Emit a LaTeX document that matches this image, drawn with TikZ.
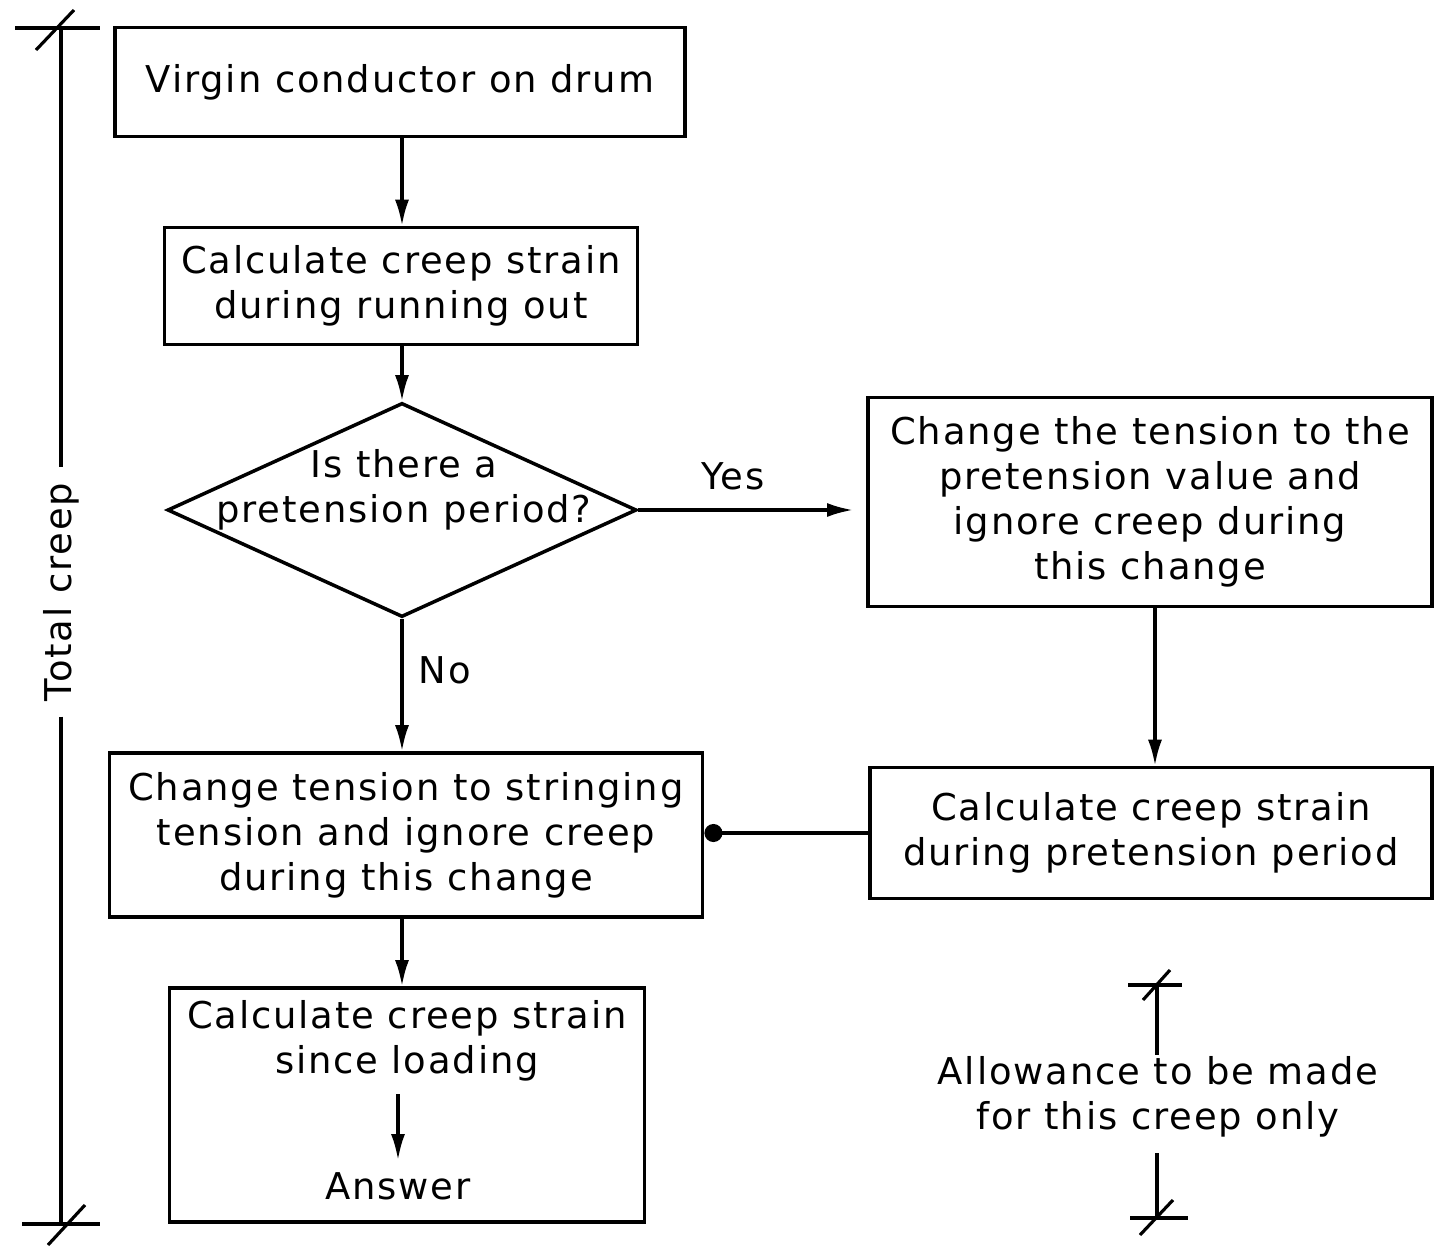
\documentclass[tikz,border=0pt]{standalone}
\usepackage{fontspec}
\setmainfont[LetterSpace=5]{DejaVu Sans}
\usetikzlibrary{shapes.geometric,arrows.meta,positioning}

\begin{document}
\begin{tikzpicture}
  [x=0.01cm,y=-0.01cm,line width=0.9pt,>={Latex[length=2.6mm,width=1.4mm]},
   every node/.style={font=\fontsize{10.5}{12.8}\selectfont,align=center,inner sep=1pt},
   box/.style={rectangle,draw=black,line width=1pt,inner sep=0pt},
   decide/.style={diamond,draw=black,line width=1pt,inner sep=0pt,minimum width=4.69cm,minimum height=2.14cm}]

  \useasboundingbox (0,0) rectangle (1435,1248);

  %%%%%%%%%%%%%%%%%%%%%% LEFT COLUMN %%%%%%%%%%%%%%%%%%%%%%
  \node[box,minimum width=5.70cm,minimum height=1.09cm] (drum) at (400,82) {Virgin conductor on drum};
  \node[box,minimum width=4.73cm,minimum height=1.17cm] (runout) at (401,286) {Calculate creep strain\\during running out};
  \node[decide] (dec) at (402,510) {};
  \node (dec_txt) at (404,490) {Is there a\\pretension period?};
  \node[box,minimum width=5.93cm,minimum height=1.64cm] (change) at (406,835) {Change tension to stringing\\tension and ignore creep\\during this change};
  \node[box,minimum width=4.75cm,minimum height=2.34cm] (load) at (407,1105) {};
  \node (load_txt) at (407,1041) {Calculate creep strain\\since loading};
  \node (ans) at (398,1186) {Answer};

  %%%%%%%%%%%%%%%%%%%%%% RIGHT COLUMN %%%%%%%%%%%%%%%%%%%%%%
  \node[box,minimum width=5.64cm,minimum height=2.09cm] (pre) at (1150,502) {Change the tension to the\\pretension value and\\ignore creep during\\this change};
  \node[box,minimum width=5.62cm,minimum height=1.31cm] (calcpre) at (1151,833) {Calculate creep strain\\during pretension period};

  \foreach \fromstep/\tostep in {drum/runout,runout/dec,dec/change,change/load}
    \draw[->] (dec.south |- \fromstep.south) -- (dec.south |- \tostep.north);
  \draw[->] (1155,0 |- pre.south) -- (1155,0 |- calcpre.north);

  \draw[->] (ans.north |- load_txt.south) ++(0,8) -- ([yshift=2pt]ans.north);
  \draw[->,shorten >=0.13cm] (dec.east) -- (pre.west |- dec.east);
  \node (yes) at (733,476) {Yes};
  \node (no) at (445,670) {No};
  \draw[-{Circle[length=1.8mm]}] (calcpre.west) -- (change.east |- calcpre.west);

  %%%%%%%%%%%%%%%%%%%%%% DIMENSIONS %%%%%%%%%%%%%%%%%%%%%%
  \coordinate (tc_top) at (61,28);
  \coordinate (tc_bot) at (61,1224);
  \node[fill=white,rotate=90,inner sep=4pt] (total) at (61,592) {Total creep};
  \draw (tc_top) -- (total.east);
  \draw (total.west) -- (tc_bot);
  \draw (tc_top) ++(-46,0) -- ++(85,0);
  \draw (tc_top) ++(-25,22) -- ++(38,-40);
  \draw (tc_bot) ++(-39,0) -- ++(78,0);
  \draw (tc_bot) ++(-13,21) -- ++(37,-40);

  \coordinate (al_top) at (1157,985);
  \coordinate (al_bot) at (1157,1218);
  \node (allow) at (1158,1097) {Allowance to be made\\for this creep only};
  \draw (al_top) -- ([yshift=-1pt]al_top |- allow.north);
  \draw ([yshift=-3pt]al_bot |- allow.south) -- (al_bot);
  \draw (al_top) ++(-29,0) -- ++(54,0);
  \draw (al_top) ++(-14,15) -- ++(27,-30);
  \draw (al_bot) ++(-27,0) -- ++(58,0);
  \draw (al_bot) ++(-17,17) -- ++(33,-35);
\end{tikzpicture}
\end{document}
